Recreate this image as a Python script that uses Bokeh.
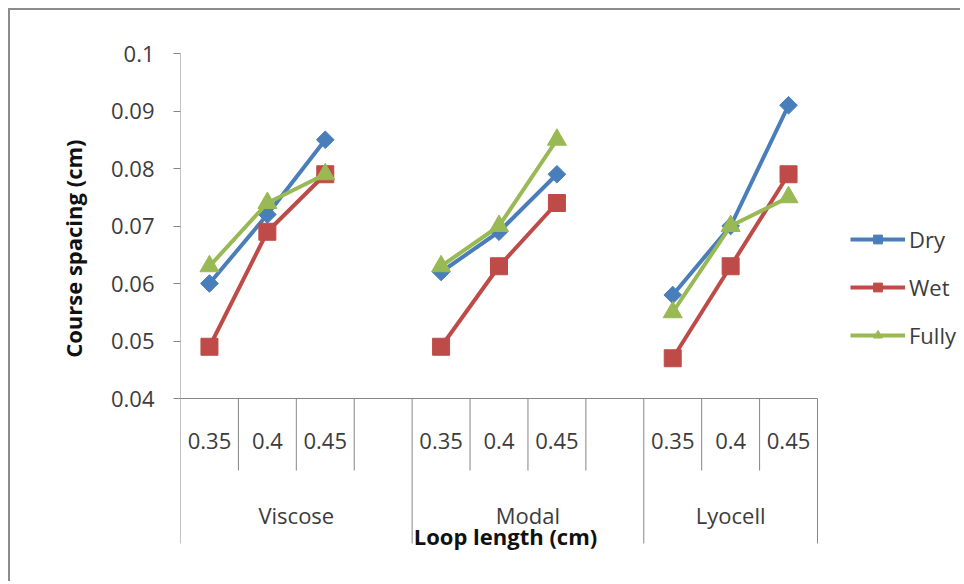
import math
from bokeh.plotting import figure
from bokeh.models import Range1d, FixedTicker, Legend, LegendItem, Title
from bokeh.embed import file_html
from bokeh.resources import INLINE
from bokeh.core.properties import value

# ---------------- data ----------------
groups = ["Viscose", "Modal", "Lyocell"]
loop_lengths = ["0.35", "0.4", "0.45"]
series_names = ["Dry", "Wet", "Fully"]
dry = [0.060, 0.072, 0.085, 0.062, 0.069, 0.079, 0.058, 0.070, 0.091]
wet = [0.049, 0.069, 0.079, 0.049, 0.063, 0.074, 0.047, 0.063, 0.079]
fully = [0.063, 0.074, 0.079, 0.063, 0.070, 0.085, 0.055, 0.070, 0.075]
y_ticks = [0.04, 0.05, 0.06, 0.07, 0.08, 0.09, 0.1]
y_tick_labels = ["0.04", "0.05", "0.06", "0.07", "0.08", "0.09", "0.1"]
y_title = "Course spacing (cm)"
x_title = "Loop length (cm)"

# ---------------- layout ----------------
FONT = "Open Sans"
TXT = "#3c3c3c"
AX = "#868686"
colors = ["#4A7EBB", "#BE4B48", "#98B954"]

n_per = len(loop_lengths)
# each group gets its categories plus one blank slot, except the last one
group_start = []
s = 0
for g in range(len(groups)):
    group_start.append(s)
    s += n_per + (1 if g < len(groups) - 1 else 0)
n_slots = s

W, H = 952, 573                    # plus 8px margin and 2px border on left/top
LEFT, TOP, BOTTOM = 170, 43, 23
plot_px = 637                      # pixel width of the category area
frame_w = W - LEFT                 # frame runs to the right edge (legend lives there)
x_end = n_slots * frame_w / plot_px

frame_top_px, axis_px, frame_bottom_px = 53, 398, 560
y_max, y_min_axis = y_ticks[-1], y_ticks[0]
ppu = (axis_px - frame_top_px) / (y_max - y_min_axis)


def px_y(px):
    return y_max - (px - frame_top_px) / ppu


y_lo = px_y(frame_bottom_px)

p = figure(width=W, height=H, output_backend="svg", toolbar_location=None,
           x_range=Range1d(0, x_end), y_range=Range1d(y_lo, y_max),
           x_axis_location=None, min_border_left=LEFT, min_border_right=0,
           min_border_top=TOP, min_border_bottom=BOTTOM)
p.styles = {"margin-left": "8px", "margin-top": "8px",
            "border-left": "2px solid #8c8c8c", "border-top": "2px solid #8c8c8c"}
p.grid.visible = False
p.outline_line_color = None
p.background_fill_color = "white"
p.border_fill_color = "white"

ax = p.yaxis[0]
ax.ticker = FixedTicker(ticks=y_ticks)
ax.major_label_overrides = {t: l for t, l in zip(y_ticks, y_tick_labels)}
ax.axis_line_color = None
ax.major_tick_line_color = AX
ax.major_tick_out = 7
ax.major_tick_in = 0
ax.minor_tick_line_color = None
ax.major_label_standoff = 19
ax.major_label_text_font = FONT
ax.major_label_text_font_size = "22px"
ax.major_label_text_color = TXT

p.add_layout(Title(text=y_title, align="right", offset=86, standoff=40,
                   text_font=FONT, text_font_size="22px", text_font_style="bold",
                   text_color="#111111"), "left")

# value axis line and category axis table
p.segment(x0=[0], x1=[0], y0=[y_min_axis], y1=[y_max], line_color=AX, line_width=1)
p.segment(x0=[0], x1=[n_slots], y0=[y_min_axis], y1=[y_min_axis], line_color=AX, line_width=1)
short_x, long_x = [], []
for g in range(len(groups)):
    st = group_start[g]
    long_x.append(st)
    end = group_start[g + 1] if g + 1 < len(groups) else n_slots
    for k in range(st + 1, end):
        short_x.append(k)
long_x.append(n_slots)
p.segment(x0=short_x, x1=short_x, y0=[y_min_axis] * len(short_x), y1=[px_y(470)] * len(short_x),
          line_color=AX, line_width=1)
p.segment(x0=long_x, x1=long_x, y0=[y_min_axis] * len(long_x), y1=[px_y(543)] * len(long_x),
          line_color=AX, line_width=1)

cx, clab = [], []
gx = []
for g in range(len(groups)):
    st = group_start[g]
    end = group_start[g + 1] if g + 1 < len(groups) else n_slots
    gx.append((st + end) / 2)
    for j, ll in enumerate(loop_lengths):
        cx.append(st + j + 0.5)
        clab.append(ll)
p.text(x=cx, y=[px_y(440)] * len(cx), text=clab, text_font=value(FONT), text_font_size="22px",
       text_color=TXT, text_align="center", text_baseline="middle")
p.text(x=gx, y=[px_y(514)] * len(gx), text=groups, text_font=value(FONT), text_font_size="22px",
       text_color=TXT, text_align="center", text_baseline="middle")
p.text(x=[n_slots * (505 - 180) / plot_px], y=[px_y(535)], text=[x_title], text_font=value(FONT),
       text_font_size="22px", text_font_style="bold", text_color="#111111",
       text_align="center", text_baseline="middle")

# series
markers = [("square", 12.5, math.pi / 4), ("square", 17, 0), ("triangle", 19, 0)]
items = []
for si, (name, vals) in enumerate(zip(series_names, [dry, wet, fully])):
    rs = []
    for g in range(len(groups)):
        xs = [group_start[g] + j + 0.5 for j in range(n_per)]
        ys = vals[g * n_per:(g + 1) * n_per]
        rs.append(p.line(xs, ys, line_color=colors[si], line_width=4))
    xs_all = [group_start[g] + j + 0.5 for g in range(len(groups)) for j in range(n_per)]
    mk, sz, ang = markers[si]
    sr = p.scatter(xs_all, vals, marker=mk, size=sz, angle=ang, fill_color=colors[si],
                   line_color=colors[si])
    items.append(LegendItem(label=name, renderers=[rs[0], sr]))

legend = Legend(items=items, location=(670, 210), orientation="vertical")
legend.border_line_color = None
legend.background_fill_alpha = 0
legend.padding = 0
legend.margin = 0
legend.glyph_width = 55
legend.glyph_height = 22
legend.label_height = 22
legend.spacing = 18
legend.label_standoff = 4
legend.label_text_font = FONT
legend.label_text_font_size = "22px"
legend.label_text_color = TXT
p.add_layout(legend)

open("out.html", "w").write(file_html(p, INLINE))
